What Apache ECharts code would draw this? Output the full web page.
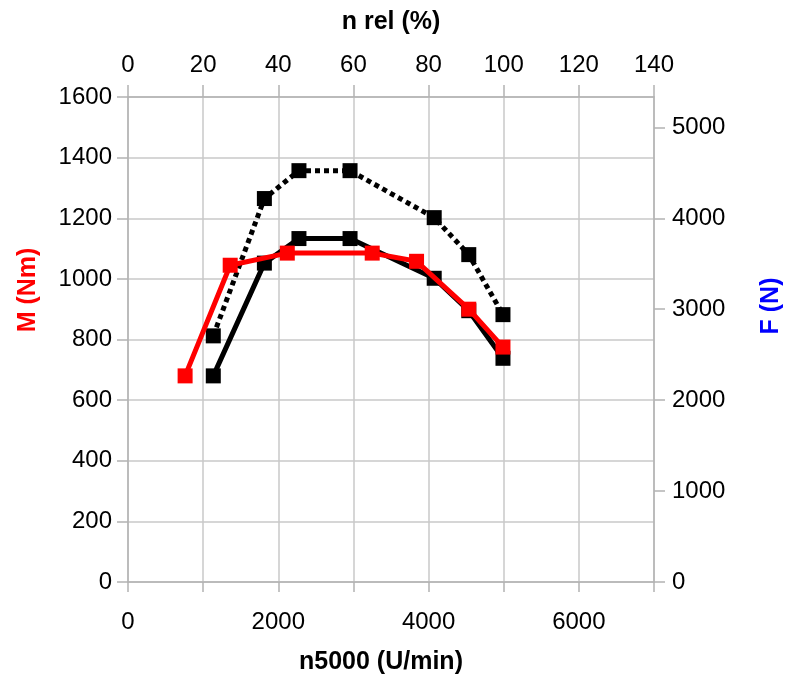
<!DOCTYPE html>
<html>
<head>
<meta charset="utf-8">
<script src="https://cdn.jsdelivr.net/npm/echarts@6/dist/echarts.min.js"></script>
<style>html,body{margin:0;padding:0;background:#fff}#c{width:785px;height:680px}</style>
</head>
<body>
<div id="c"></div>
<script>
// Data (x: n in U/min, y: M in Nm)
const redX = [760, 1360, 2120, 3250, 3840, 4535, 4990];
const redM = [680, 1045, 1085, 1085, 1058, 900, 775];
const solidX = [1135, 1815, 2275, 2955, 4075, 4535, 4990];
const solidM = [680, 1052, 1133, 1133, 1002, 895, 738];
const dottedX = [1135, 1815, 2275, 2955, 4075, 4535, 4990];
const dottedM = [812, 1265, 1357, 1357, 1202, 1080, 882];
const bottomTicks = [0, 2000, 4000, 6000];
const rightTicks = [0, 1000, 2000, 3000, 4000, 5000];

const pairs = (xs, ys) => xs.map((x, i) => [x, ys[i]]);
const FONT = 'Liberation Sans, Arial, sans-serif';
const AX = '#b3b3b3', GRID = '#c8c8c8';
const lbl = {fontFamily: FONT, fontSize: 24, color: '#000'};

const chart = echarts.init(document.getElementById('c'), null, {renderer: 'canvas'});
chart.setOption({
  animation: false,
  backgroundColor: '#fff',
  grid: {left: 128, right: 131, top: 97, bottom: 95, containLabel: false},
  xAxis: [{
    type: 'value', position: 'bottom', min: 0, max: 7000, interval: 1000,
    name: 'n5000 (U/min)', nameLocation: 'middle', nameGap: 68,
    nameTextStyle: {fontFamily: FONT, fontSize: 25, fontWeight: 'bold', color: '#000', padding: [0, 20, 0, 0]},
    axisLine: {show: true, onZero: false, lineStyle: {color: AX, width: 1.5}},
    axisTick: {show: true, length: 10, lineStyle: {color: AX, width: 1.5}},
    axisLabel: Object.assign({margin: 28, formatter: v => bottomTicks.includes(v) ? String(v) : ''}, lbl),
    splitLine: {show: true, lineStyle: {color: GRID, width: 1.5}}
  }, {
    type: 'value', position: 'top', min: 0, max: 140, interval: 20,
    name: 'n rel (%)', nameLocation: 'middle', nameGap: 62,
    nameTextStyle: {fontFamily: FONT, fontSize: 25, fontWeight: 'bold', color: '#000'},
    axisLine: {show: true, onZero: false, lineStyle: {color: AX, width: 1.5}},
    axisTick: {show: true, length: 12, lineStyle: {color: AX, width: 1.5}},
    axisLabel: Object.assign({margin: 20, formatter: v => String(v)}, lbl),
    splitLine: {show: false}
  }],
  yAxis: [{
    type: 'value', position: 'left', min: 0, max: 1600, interval: 200,
    axisLine: {show: true, onZero: false, lineStyle: {color: AX, width: 1.5}},
    axisTick: {show: true, length: 11, lineStyle: {color: AX, width: 1.5}},
    axisLabel: Object.assign({margin: 16, formatter: v => String(v)}, lbl),
    splitLine: {show: true, lineStyle: {color: GRID, width: 1.5}}
  }, {
    type: 'value', position: 'right', min: 0, max: 16000 / 3, interval: 1000,
    axisLine: {show: true, onZero: false, lineStyle: {color: AX, width: 1.5}},
    axisTick: {show: true, length: 11, lineStyle: {color: AX, width: 1.5}},
    axisLabel: Object.assign({margin: 18, showMaxLabel: false,
      formatter: v => rightTicks.includes(v) ? String(v) : ''}, lbl),
    splitLine: {show: false}
  }],
  graphic: [
    {type: 'text', x: 28, y: 290, rotation: Math.PI / 2,
     style: {text: 'M (Nm)', x: 0, y: 0, align: 'center', verticalAlign: 'middle',
             font: 'bold 25px ' + FONT, fill: '#ff0000'}},
    {type: 'text', x: 771, y: 306, rotation: Math.PI / 2,
     style: {text: 'F (N)', x: 0, y: 0, align: 'center', verticalAlign: 'middle',
             font: 'bold 25px ' + FONT, fill: '#0000ff'}}
  ],
  series: [{
    name: 'dotted', type: 'line', xAxisIndex: 0, yAxisIndex: 0,
    data: pairs(dottedX, dottedM), symbol: 'rect', symbolSize: 15,
    itemStyle: {color: '#000'},
    lineStyle: {color: '#000', width: 5, type: [5, 4]}, z: 2
  }, {
    name: 'solid', type: 'line', xAxisIndex: 0, yAxisIndex: 0,
    data: pairs(solidX, solidM), symbol: 'rect', symbolSize: 15,
    itemStyle: {color: '#000'},
    lineStyle: {color: '#000', width: 5}, z: 3
  }, {
    name: 'red', type: 'line', xAxisIndex: 0, yAxisIndex: 0,
    data: pairs(redX, redM), symbol: 'rect', symbolSize: 15,
    itemStyle: {color: '#ff0000'},
    lineStyle: {color: '#ff0000', width: 5}, z: 4
  }]
});
</script>
</body>
</html>
